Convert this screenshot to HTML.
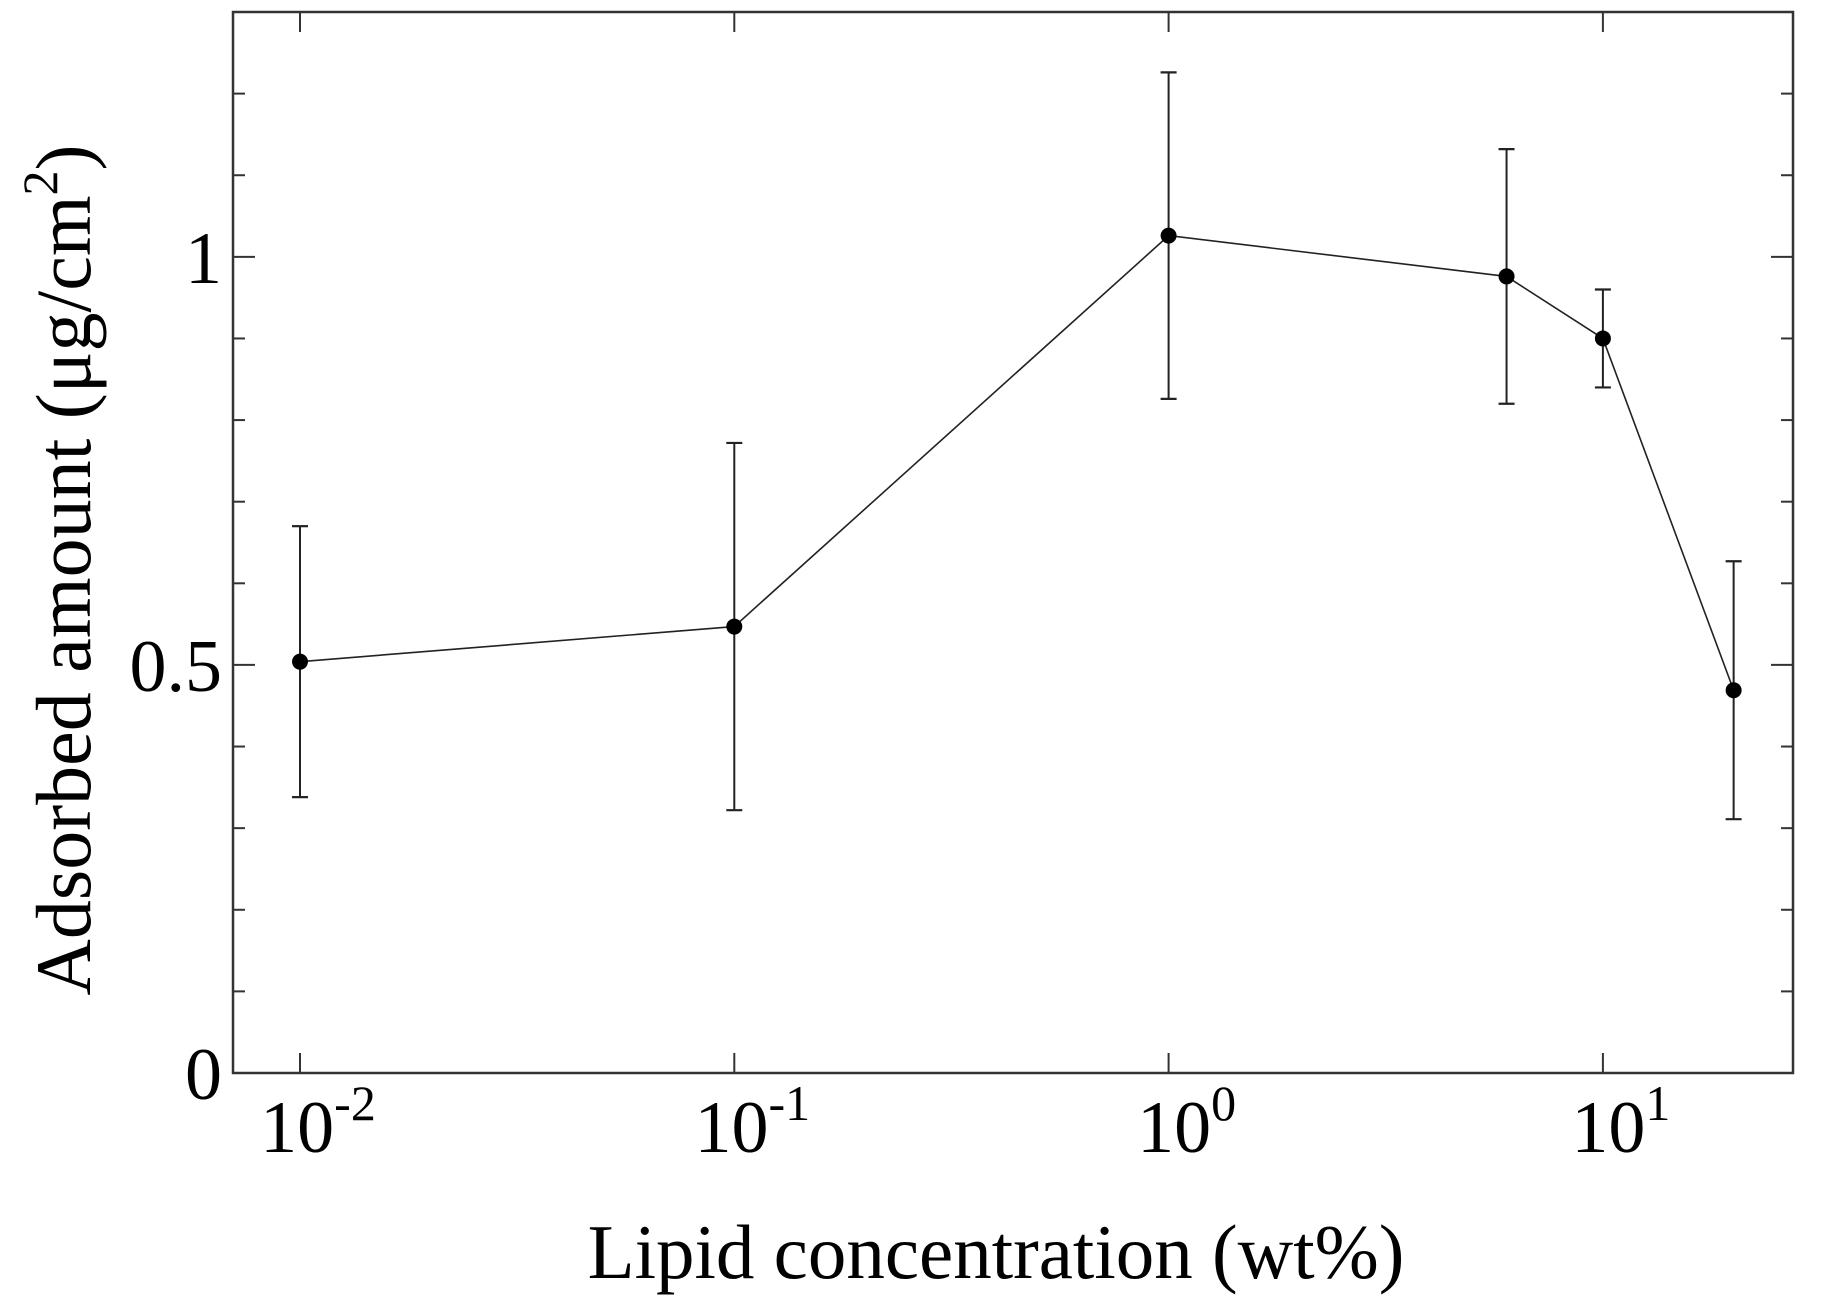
<!DOCTYPE html>
<html><head><meta charset="utf-8"><style>
html,body{margin:0;padding:0;background:#fff;}
svg text{font-family:"Liberation Serif",serif;fill:#000;}
</style></head><body>
<svg id="chart" width="1828" height="1299" viewBox="0 0 1828 1299" xmlns="http://www.w3.org/2000/svg">
<g id="axes"></g>
<g id="series"></g>
<text x="996" y="1278" font-size="77" text-anchor="middle">Lipid concentration (wt%)</text>
<text transform="translate(90,570) rotate(-90)" font-size="78" text-anchor="middle">Adsorbed amount (μg/cm<tspan font-size="50" dy="-33">2</tspan><tspan dy="33">)</tspan></text>
</svg>
<script>
const xValues = [0.01, 0.1, 1, 6, 10, 20];
const yValues = [0.504, 0.547, 1.026, 0.976, 0.900, 0.469];
const yErrors = [0.166, 0.225, 0.200, 0.156, 0.060, 0.158];
const xTickExps = [-2, -1, 0, 1];
const yTickLabels = ["0", "0.5", "1"];
const yTickValues = [0, 0.5, 1];

const L=233, R=1793, T=12, B=1073;
const X0=300, DEC=434.3;
const yMax=1.3;
function sx(v){return X0+(Math.log10(v)+2)*DEC;}
function sy(v){return B-(v/yMax)*(B-T);}
const NS="http://www.w3.org/2000/svg";
function mk(tag,attrs,parent){const e=document.createElementNS(NS,tag);for(const k in attrs)e.setAttribute(k,attrs[k]);parent.appendChild(e);return e;}
const axes=document.getElementById('axes');
const series=document.getElementById('series');

const frame=mk('rect',{x:L,y:T,width:R-L,height:B-T,fill:'none',stroke:'#333','stroke-width':2.5},axes);



xTickExps.forEach(e=>{
  const x=sx(Math.pow(10,e));
  const t1=mk('line',{x1:x,x2:x,y1:B,y2:B-20,stroke:'#333','stroke-width':2},axes);
  
  
  const t2=mk('line',{x1:x,x2:x,y1:T,y2:T+20,stroke:'#333','stroke-width':2},axes);
  
  
  const tx=mk('text',{x:x+18,y:1152,'font-size':74,'text-anchor':'middle'},axes);
  
  
  tx.appendChild(document.createTextNode('10'));
  const sp=document.createElementNS(NS,'tspan');
  sp.setAttribute('font-size','50');sp.setAttribute('dy','-32');
  sp.textContent=String(e);
  tx.appendChild(sp);
});

for(let i=1;i<13;i++){
  const v=i/10, y=sy(v);
  const major=(i%5===0);
  const len=major?22:12;
  const a=mk('line',{x1:L,x2:L+len,y1:y,y2:y,stroke:'#333','stroke-width':2},axes);
  
  
  const b=mk('line',{x1:R,x2:R-len,y1:y,y2:y,stroke:'#333','stroke-width':2},axes);
  
  
}
yTickValues.forEach((v,i)=>{
  const t=mk('text',{x:222,y:sy(v)+26,'font-size':74,'text-anchor':'end'},axes);
  
  
  t.textContent=yTickLabels[i];
});

const pts=xValues.map((x,i)=>sx(x)+','+sy(yValues[i])).join(' ');
const line=mk('polyline',{points:pts,fill:'none',stroke:'#222','stroke-width':1.6},series);



xValues.forEach((xv,i)=>{
  const x=sx(xv), y1=sy(yValues[i]+yErrors[i]), y2=sy(yValues[i]-yErrors[i]);
  const g=mk('g',{},series);
  
  
  mk('line',{x1:x,x2:x,y1:y1,y2:y2,stroke:'#222','stroke-width':2},g);
  mk('line',{x1:x-8,x2:x+8,y1:y1,y2:y1,stroke:'#222','stroke-width':2.2},g);
  mk('line',{x1:x-8,x2:x+8,y1:y2,y2:y2,stroke:'#222','stroke-width':2.2},g);
  const c=mk('circle',{cx:x,cy:sy(yValues[i]),r:8,fill:'#000'},series);
  
  
});
</script>
</body></html>
